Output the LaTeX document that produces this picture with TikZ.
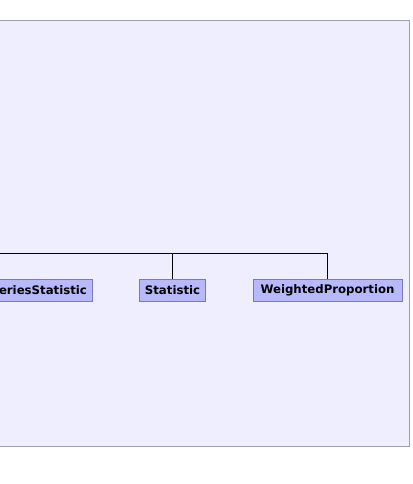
\documentclass[tikz,border=0pt]{standalone}
\usepackage{fontspec}
\setmainfont{DejaVu Sans}
\usepackage{tikz}
\usetikzlibrary{positioning}
\definecolor{corfundo}{RGB}{238,238,255}
\definecolor{corborda}{RGB}{160,160,176}
\definecolor{corclasse}{RGB}{184,184,252}
\definecolor{corlinha}{RGB}{120,120,192}

\begin{document}
\begin{tikzpicture}[
  x=0.75pt, y=-0.75pt,
  classe/.style={rectangle, draw=corlinha, fill=corclasse, inner xsep=4pt,
                 minimum height=17pt, font=\bfseries\fontsize{8.8}{10}\selectfont},
  ramo/.style={draw=black, line width=0.75pt}
]
  \useasboundingbox (0,0) rectangle (412,484);
  \clip (0,0) rectangle (412,484);
  \draw[fill=corfundo, draw=corborda, line width=0.75pt] (-20,20.5) rectangle (409.5,446);

  \node[classe, anchor=north east] (serie) at (92.5,278.5) {TimeSeriesStatistic};
  \node[classe, anchor=north] (stat) at (172.5,278.5) {Statistic};
  \node[classe, anchor=north, inner xsep=5.5pt] (peso) at (327.5,278.5) {WeightedProportion};

  \coordinate (barra) at (-20,253.5);
  \draw[ramo] (barra) -| (peso.north);
  \draw[ramo] (stat.north) -- (stat.north |- barra);
\end{tikzpicture}
\end{document}
